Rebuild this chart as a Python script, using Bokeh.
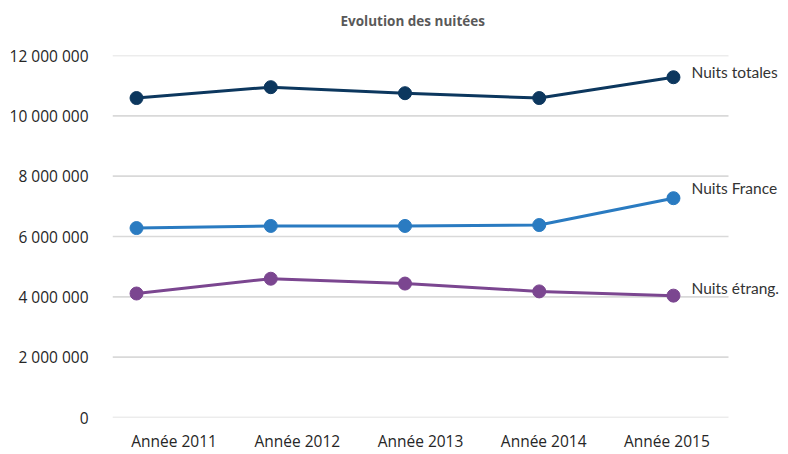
from bokeh.plotting import figure
from bokeh.models import (Range1d, LinearAxis, FixedTicker, Label,
                          CustomJSTickFormatter, ColumnDataSource)
from bokeh.embed import file_html
from bokeh.resources import INLINE

years = ["Année 2011", "Année 2012", "Année 2013", "Année 2014", "Année 2015"]
nuits_totales = [10590000, 10950000, 10750000, 10590000, 11280000]
nuits_france = [6280000, 6350000, 6350000, 6380000, 7270000]
nuits_etrang = [4110000, 4600000, 4440000, 4180000, 4040000]
series_names = ["Nuits totales", "Nuits France", "Nuits étrang."]
y_ticks = [0, 2000000, 4000000, 6000000, 8000000, 10000000, 12000000]

colors = ["#0c375e", "#2a7bc1", "#7b4690"]
label_dy = [5, 10, 8]

# plotting frame extends to the right edge so the series labels are not clipped;
# the grid lines stop at the plot-area edge (x = GRID_X0 .. GRID_X1)
X_START, X_END = -0.179, 4.857
GRID_X0, GRID_X1 = -0.179, 4.41

p = figure(width=788, height=454, output_backend="svg", toolbar_location=None,
           x_range=Range1d(X_START, X_END), y_range=Range1d(0, 12000000),
           x_axis_location=None,
           min_border_left=112, min_border_right=0, min_border_top=55,
           min_border_bottom=34)
p.outline_line_color = None
p.background_fill_color = "white"
p.border_fill_color = "white"

p.title.text = "Evolution des nuitées\n"
p.title.align = "left"
p.title.offset = 228
p.title.vertical_align = "top"
p.title.text_font = "Open Sans"
p.title.text_font_style = "bold"
p.title.text_font_size = "13.5px"
p.title.text_color = "#595959"
p.title.standoff = 12

# category band axis: one equal band per year across the plot area
p.extra_x_ranges = {"lab": Range1d(0, 5.487)}
band_centers = [i + 0.5 for i in range(len(years))]
xax = LinearAxis(x_range_name="lab", ticker=FixedTicker(ticks=band_centers),
                 major_label_overrides={c: y for c, y in zip(band_centers, years)})
xax.axis_line_color = None
xax.major_tick_line_color = None
xax.minor_tick_line_color = None
xax.major_tick_out = 0
xax.minor_tick_out = 0
xax.major_label_standoff = 12
xax.major_label_text_font = "Open Sans"
xax.major_label_text_font_size = "15.5px"
xax.major_label_text_color = "#262626"
p.add_layout(xax, "below")

yax = p.yaxis[0]
yax.ticker = FixedTicker(ticks=y_ticks)
yax.formatter = CustomJSTickFormatter(
    code="return tick.toFixed(0).replace(/\\B(?=(\\d{3})+(?!\\d))/g, ' ');")
yax.axis_line_color = None
yax.major_tick_line_color = None
yax.minor_tick_line_color = None
yax.major_tick_out = 0
yax.minor_tick_out = 0
yax.major_label_standoff = 24
yax.major_label_text_font = "Open Sans"
yax.major_label_text_font_size = "15.5px"
yax.major_label_text_color = "#262626"

p.xgrid.visible = False
p.ygrid.visible = False
p.segment(x0=[GRID_X0] * len(y_ticks), x1=[GRID_X1] * len(y_ticks),
          y0=y_ticks, y1=y_ticks, line_color="#d9d9d9", line_width=1.6)

xs = list(range(len(years)))
for vals, name, col, dy in zip([nuits_totales, nuits_france, nuits_etrang],
                               series_names, colors, label_dy):
    src = ColumnDataSource(dict(x=xs, y=vals))
    p.line("x", "y", source=src, line_color=col, line_width=3)
    p.scatter("x", "y", source=src, size=13, fill_color=col, line_color=col)
    p.add_layout(Label(x=xs[-1], y=vals[-1], text=name, x_offset=18, y_offset=dy,
                       text_font="Lato", text_font_size="15.5px", text_color="#333333",
                       text_baseline="middle", text_align="left"))

open("out.html", "w").write(file_html(p, INLINE))
